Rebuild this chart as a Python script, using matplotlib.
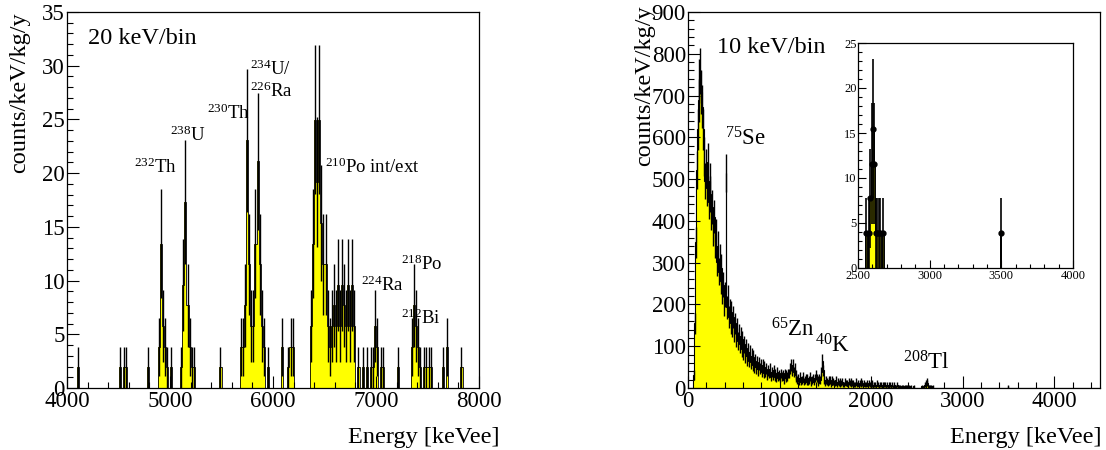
import numpy as np
import matplotlib
matplotlib.use("Agg")
import matplotlib.pyplot as plt
from matplotlib.ticker import MultipleLocator

plt.rcParams['font.family'] = ['Liberation Serif', 'DejaVu Serif']
plt.rcParams['mathtext.fontset'] = 'custom'
plt.rcParams['mathtext.rm'] = 'Liberation Serif'
plt.rcParams['mathtext.it'] = 'Liberation Serif:italic'

# ---------------- data: alpha region (left), 20 keV bins -----------------
alpha_range_keV = [4000, 8000]
alpha_bin_width = 20
alpha_rate_per_count = 1.92          # counts/keV/kg/y for one event
alpha_bin_keV = [4100, 4500, 4540, 4560, 4780, 4880, 4900, 4920, 4940, 4960,
                 5000, 5100, 5120, 5140, 5160, 5180, 5200, 5220, 5480, 5680,
                 5700, 5720, 5740, 5760, 5780, 5800, 5820, 5840, 5860, 5880,
                 5900, 5940, 6080, 6140, 6160, 6180, 6360, 6380, 6400, 6420,
                 6440, 6460, 6480, 6500, 6520, 6540, 6560, 6580, 6600, 6620,
                 6640, 6660, 6680, 6700, 6720, 6740, 6760, 6780, 6820, 6860,
                 6900, 6940, 6960, 6980, 7000, 7040, 7060, 7200, 7340, 7360,
                 7380, 7400, 7420, 7460, 7480, 7500, 7520, 7640, 7680, 7820]
alpha_counts = [1, 1, 1, 1, 1, 2, 7, 3, 2, 1,
                1, 1, 5, 9, 4, 2, 1, 1, 1, 2,
                2, 4, 12, 6, 3, 3, 7, 11, 6, 3,
                2, 1, 2, 1, 2, 2, 3, 7, 13, 10,
                13, 8, 6, 6, 3, 2, 3, 4, 3, 5,
                3, 5, 4, 3, 5, 3, 5, 3, 1, 1,
                1, 1, 1, 3, 2, 1, 1, 1, 2, 4,
                3, 2, 1, 1, 1, 1, 1, 1, 2, 1]
alpha_labels = ["$^{232}$Th", "$^{238}$U", "$^{230}$Th", "$^{234}$U/", "$^{226}$Ra",
                "$^{210}$Po int/ext", "$^{224}$Ra", "$^{218}$Po", "$^{212}$Bi"]
alpha_label_x = [4650, 5000, 5356, 5777, 5777, 6505, 6854, 7243, 7243]
alpha_label_y = [20.0, 23.0, 25.0, 29.1, 27.1, 20.0, 9.0, 11.0, 6.0]

# ---------------- data: gamma region (right), 10 keV bins from 0 keV -------
gamma_range_keV = [0, 4500]
gamma_bin_width = 10
gamma_rate_per_count = 3.87
gamma_counts = [
    0, 0, 0, 0, 0, 0, 8, 40, 90, 135,
    160, 178, 190, 196, 183, 174, 160, 143, 128, 136,
    124, 140, 115, 128, 120, 108, 112, 98, 106, 90,
    95, 78, 88, 72, 80, 66, 74, 60, 64, 52,
    58, 133, 50, 56, 44, 48, 40, 47, 38, 44,
    34, 40, 31, 37, 29, 34, 27, 32, 24, 30,
    22, 27, 20, 25, 18, 23, 17, 22, 16, 20,
    14, 19, 13, 17, 12, 16, 11, 15, 12, 14,
    10, 14, 9, 13, 10, 12, 8, 11, 9, 12,
    7, 10, 8, 11, 7, 9, 6, 10, 7, 8,
    6, 9, 7, 8, 5, 9, 6, 8, 7, 9,
    9, 12, 14, 11, 14, 10, 12, 8, 6, 5,
    6, 4, 7, 4, 5, 7, 4, 5, 6, 4,
    6, 4, 5, 7, 3, 5, 6, 4, 6, 8,
    6, 5, 3, 6, 5, 10, 17, 11, 5, 3,
    5, 4, 3, 5, 4, 5, 2, 5, 4, 3,
    3, 5, 2, 4, 3, 2, 4, 3, 4, 2,
    2, 4, 3, 3, 1, 4, 3, 4, 2, 3,
    3, 2, 2, 4, 2, 3, 1, 3, 4, 2,
    3, 1, 3, 2, 2, 3, 1, 3, 2, 2,
    3, 2, 1, 2, 2, 1, 3, 2, 1, 2,
    2, 1, 2, 1, 2, 2, 1, 2, 1, 1,
    2, 1, 2, 1, 1, 2, 1, 1, 2, 1,
    1, 1, 0, 1, 1, 0, 1, 0, 1, 1,
    0, 1, 0, 1, 0, 0, 1, 0, 0, 0,
    0, 0, 0, 0, 0, 1, 0, 1, 2, 3,
    4, 3, 1, 1, 1, 1, 0, 1, 0, 0]
gamma_extra_keV = [3490]
gamma_extra_counts = [1]
gamma_labels = ["10 keV/bin", "$^{75}$Se", "$^{65}$Zn", "$^{40}$K", "$^{208}$Tl"]
gamma_label_x = [313, 404, 904, 1388, 2353]
gamma_label_y = [801, 581, 123, 84, 45]
inset_range_keV = [2500, 4000]
inset_range_y = [0, 25]

# ---------------- build histograms -----------------
a_edges = np.arange(alpha_range_keV[0], alpha_range_keV[1] + alpha_bin_width, alpha_bin_width)
a_cnt = np.zeros(len(a_edges) - 1)
for e, c in zip(alpha_bin_keV, alpha_counts):
    a_cnt[(e - alpha_range_keV[0]) // alpha_bin_width] = c

g_edges = np.arange(gamma_range_keV[0], gamma_range_keV[1] + gamma_bin_width, gamma_bin_width)
g_cnt = np.zeros(len(g_edges) - 1)
g_cnt[:len(gamma_counts)] = gamma_counts
for e, c in zip(gamma_extra_keV, gamma_extra_counts):
    g_cnt[(e - gamma_range_keV[0]) // gamma_bin_width] = c

YELLOW = '#ffff00'


def draw_hist(ax, edges, cnt, scale, elw=0.8, olw=0.6, marker=False, ms=3.5):
    vals = cnt * scale
    ax.stairs(vals, edges, fill=True, color=YELLOW, lw=0)
    ax.stairs(vals, edges, color='black', lw=olw)
    nz = cnt > 0
    cen = 0.5 * (edges[:-1] + edges[1:])
    ax.errorbar(cen[nz], vals[nz], yerr=np.sqrt(cnt[nz]) * scale,
                fmt='o' if marker else 'none', ms=ms, color='black',
                ecolor='black', elinewidth=elw, capsize=0)


def style_axes(ax, maj_len=8.6, min_len=4.3, size=16.5):
    ax.tick_params(which='both', direction='in', top=False, right=False,
                   width=0.8, labelsize=size)
    ax.tick_params(which='major', length=maj_len)
    ax.tick_params(which='minor', length=min_len)
    ax.tick_params(axis='y', pad=1.5)
    ax.tick_params(axis='x', pad=2.0)
    for s in ax.spines.values():
        s.set_linewidth(0.9)


fig = plt.figure(figsize=(11.06, 4.5), dpi=100)
W, H = 1106.0, 450.0

# ---------------- left panel -----------------
axL = fig.add_axes([67 / W, 1 - 388 / H, 412 / W, 376 / H])
draw_hist(axL, a_edges, a_cnt, alpha_rate_per_count, elw=1.0, olw=0.6)
axL.set_xlim(*alpha_range_keV)
axL.set_ylim(0, 35)
axL.xaxis.set_major_locator(MultipleLocator(1000))
axL.xaxis.set_minor_locator(MultipleLocator(200))
axL.yaxis.set_major_locator(MultipleLocator(5))
axL.yaxis.set_minor_locator(MultipleLocator(1))
style_axes(axL)
axL.text(4204, 32.0, "20 keV/bin", fontsize=17.5, va='baseline', ha='left')
for t, x, y in zip(alpha_labels, alpha_label_x, alpha_label_y):
    axL.text(x, y, t, fontsize=13.5, va='baseline', ha='left')

# ---------------- right panel -----------------
axR = fig.add_axes([688 / W, 1 - 388 / H, 412 / W, 376 / H])
draw_hist(axR, g_edges, g_cnt, gamma_rate_per_count, elw=1.0, olw=0.8)
axR.set_xlim(*gamma_range_keV)
axR.set_ylim(0, 900)
axR.xaxis.set_major_locator(MultipleLocator(1000))
axR.xaxis.set_minor_locator(MultipleLocator(200))
axR.yaxis.set_major_locator(MultipleLocator(100))
axR.yaxis.set_minor_locator(MultipleLocator(20))
style_axes(axR)
axR.text(gamma_label_x[0], gamma_label_y[0], gamma_labels[0], fontsize=17.5,
         va='baseline', ha='left')
for t, x, y in zip(gamma_labels[1:], gamma_label_x[1:], gamma_label_y[1:]):
    axR.text(x, y, t, fontsize=16.5, va='baseline', ha='left')

# ---------------- inset -----------------
axI = fig.add_axes([858 / W, 1 - 268 / H, 215 / W, 225 / H])
draw_hist(axI, g_edges, g_cnt, gamma_rate_per_count, elw=1.2, olw=0.7,
          marker=True, ms=3.5)
axI.set_xlim(*inset_range_keV)
axI.set_ylim(*inset_range_y)
axI.xaxis.set_major_locator(MultipleLocator(500))
axI.xaxis.set_minor_locator(MultipleLocator(100))
axI.yaxis.set_major_locator(MultipleLocator(5))
axI.yaxis.set_minor_locator(MultipleLocator(1))
style_axes(axI, maj_len=5.5, min_len=2.8, size=9)
axI.tick_params(axis='y', pad=1)
axI.tick_params(axis='x', pad=1.5)

# ---------------- axis titles -----------------
fig.text(20 / W, 1 - 12 / H, "counts/keV/kg/y", rotation=90, ha='center',
         va='top', fontsize=17.5)
fig.text(645 / W, 1 - 5 / H, "counts/keV/kg/y", rotation=90, ha='center',
         va='top', fontsize=17.5)
fig.text(500 / W, 1 - 437 / H, "Energy [keVee]", ha='right', va='center',
         fontsize=17.5)
fig.text(1102 / W, 1 - 437 / H, "Energy [keVee]", ha='right', va='center',
         fontsize=17.5)

fig.savefig("out.png", dpi=100)
